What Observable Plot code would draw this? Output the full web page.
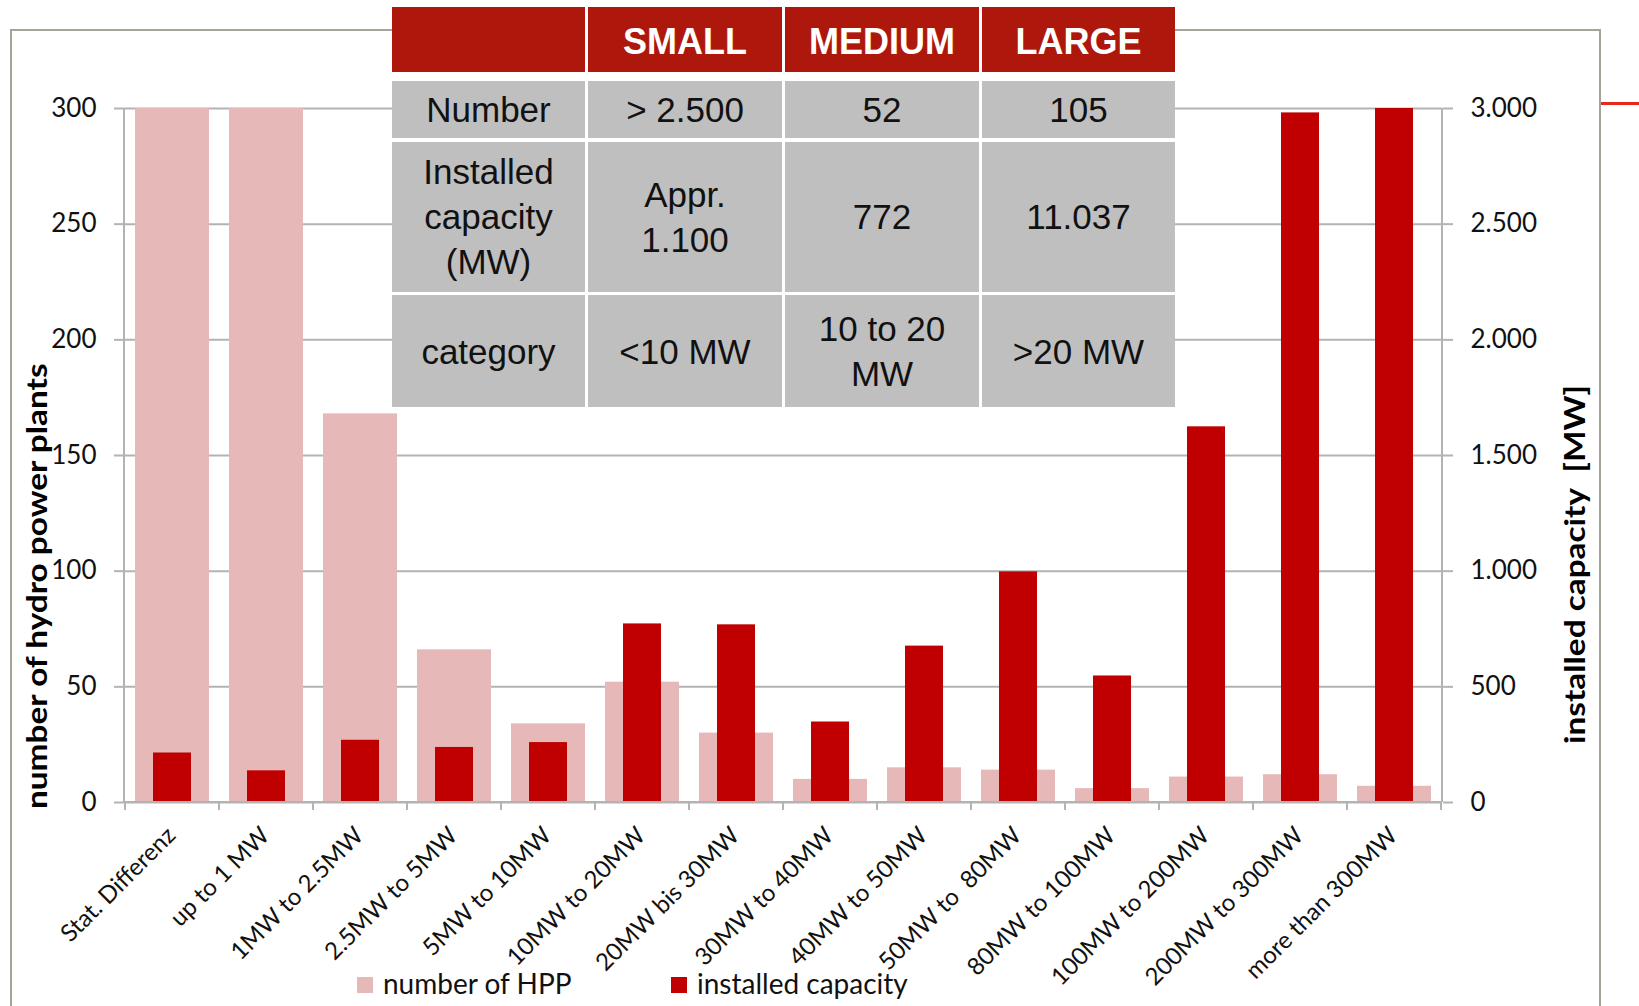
<!DOCTYPE html>
<html>
<head>
<meta charset="utf-8">
<script src="https://cdn.jsdelivr.net/npm/d3@7"></script>
<script src="https://cdn.jsdelivr.net/npm/@observablehq/plot@0.6"></script>
<style>
  html, body { margin: 0; padding: 0; background: #fff; width: 1639px; height: 1006px; overflow: hidden; }
  #wrap { position: relative; width: 1639px; height: 1006px; overflow: hidden; }
  #frame { position: absolute; left: 10px; top: 29px; width: 1591px; height: 1200px; box-sizing: border-box; border: 2px solid #a8a399; }
  #redline { position: absolute; left: 1601px; top: 102px; width: 38px; height: 3px; background: #e8281c; }
  #chart { position: absolute; left: 0; top: 0; }
  #chart svg text { white-space: pre; }
  .ytitle { position: absolute; font-family: Lato, sans-serif; font-weight: 700; font-size: 29px; line-height: 29px; white-space: pre; color: #000; transform-origin: 0 0; transform: rotate(-90deg) scaleX(1.15); }
  #tbl { position: absolute; left: 392px; top: 7px; width: 783px; background: #fff; font-family: "Liberation Sans", Arial, sans-serif; }
  .row { display: grid; grid-template-columns: 193px 194px 194px 193px; column-gap: 3px; }
  .hdr { height: 65px; }
  .hdr div { background: #ad170c; color: #fff; font-weight: 700; font-size: 36px; display: flex; align-items: center; justify-content: center; padding-top: 4px; box-sizing: border-box; }
  .body { display: grid; grid-template-columns: 193px 194px 194px 193px; grid-template-rows: 57px 150px 112px; column-gap: 3px; row-gap: 3.5px; margin-top: 9px; }
  .body div { background: #bfbfbf; color: #111; font-size: 35px; line-height: 45px; display: flex; align-items: center; justify-content: center; text-align: center; white-space: pre; }
  .leg { position: absolute; font-family: Lato, sans-serif; font-size: 28px; line-height: 28px; color: #111; white-space: pre; }
  .sw { position: absolute; width: 16px; height: 16px; }
</style>
</head>
<body>
<div id="wrap">
  <div id="frame"></div>
  <div id="redline"></div>
  <div id="chart"></div>
</div>
<script>
// ---------- data ----------
const categories = ["Stat. Differenz", "up to 1 MW", "1MW to 2.5MW", "2.5MW to 5MW", "5MW to 10MW", "10MW to 20MW", "20MW bis 30MW", "30MW to 40MW", "40MW to 50MW", "50MW to  80MW", "80MW to 100MW", "100MW to 200MW", "200MW to 300MW", "more than 300MW"];
const numberHPP = [300, 300, 168, 66, 34, 52, 30, 10, 15, 14, 6, 11, 12, 7];
const installedMW = [214, 137, 269, 238, 259, 772, 768, 348, 676, 997, 547, 1624, 2981, 3000];
const countTicks = [0, 50, 100, 150, 200, 250, 300];
const capacityTicks = [0, 500, 1000, 1500, 2000, 2500, 3000];
const leftTitle = "number of hydro power plants";
const rightTitle = "installed capacity  [MW]";
const legendLabels = ["number of HPP", "installed capacity"];
const tableHeader = ["", "SMALL", "MEDIUM", "LARGE"];
const tableRows = [
  ["Number", "> 2.500", "52", "105"],
  ["Installed\ncapacity\n(MW)", "Appr.\n1.100", "772", "11.037"],
  ["category", "<10 MW", "10 to 20\nMW", ">20 MW"]
];

// ---------- styles ----------
const pink = "#e6b9b8";
const red = "#c00000";
const gray = "#b3b3b3";
const capRatio = capacityTicks[capacityTicks.length - 1] / countTicks[countTicks.length - 1];

const rows = categories.map((c, i) => ({cat: c, count: numberHPP[i], cap: installedMW[i]}));
const de = d3.formatLocale({decimal: ",", thousands: ".", grouping: [3], currency: ["", "€"]}).format(",d");

function axisFrame(index, scales, values, dimensions) {
  const {width, marginLeft, marginRight} = dimensions;
  const x = scales.x, y = scales.y;
  const x0 = marginLeft, x1 = width - marginRight;
  const yb = y(countTicks[0]), yt = y(countTicks[countTicks.length - 1]);
  const bw = typeof x.bandwidth === "function" ? x.bandwidth() : (x1 - x0) / categories.length;
  const g = d3.create("svg:g").attr("stroke", gray).attr("stroke-width", 2).attr("fill", "none");
  g.append("line").attr("x1", x0).attr("x2", x0).attr("y1", yt).attr("y2", yb);
  g.append("line").attr("x1", x1).attr("x2", x1).attr("y1", yt).attr("y2", yb);
  g.append("line").attr("x1", x0).attr("x2", x1).attr("y1", yb).attr("y2", yb);
  const edges = categories.map(c => x(c)).concat([x(categories[categories.length - 1]) + bw]);
  for (const e of edges) g.append("line").attr("x1", e).attr("x2", e).attr("y1", yb).attr("y2", yb + 8);
  return g.node();
}

const plot = Plot.plot({
  width: 1639,
  height: 1006,
  marginLeft: 124,
  marginRight: 197,
  marginTop: 108,
  marginBottom: 204,
  style: {fontFamily: "Lato, sans-serif", fontSize: "26px", color: "#111", background: "transparent", overflow: "visible"},
  x: {domain: categories, padding: 0},
  y: {domain: [countTicks[0], countTicks[countTicks.length - 1]]},
  marks: [
    Plot.gridY(countTicks, {stroke: gray, strokeOpacity: 1, strokeWidth: 2}),
    Plot.barY(rows, {x: "cat", y: "count", fill: pink, insetLeft: 10, insetRight: 10}),
    Plot.barY(rows, {x: "cat", y: d => d.cap / capRatio, fill: red, insetLeft: 28, insetRight: 28}),
    axisFrame,
    Plot.axisY({anchor: "left", ticks: countTicks, tickSize: 10, tickPadding: 18, stroke: gray, strokeWidth: 2, fill: "#111", fontSize: 26, label: null, tickFormat: d => de(d)}),
    Plot.axisY({anchor: "right", ticks: capacityTicks.map(v => v / capRatio), tickSize: 10, tickPadding: 18, stroke: gray, strokeWidth: 2, fill: "#111", fontSize: 26, label: null, tickFormat: d => de(d * capRatio)}),
    Plot.axisX({anchor: "bottom", tickRotate: -45, tickSize: 0, tickPadding: 29, dx: -1, textAnchor: "end", lineAnchor: "middle", fontSize: 24, fill: "#111", label: null})
  ]
});
document.getElementById("chart").appendChild(plot);

const wrap = document.getElementById("wrap");
function addDiv(cls, text, style) {
  const d = document.createElement("div");
  d.className = cls;
  d.textContent = text;
  Object.assign(d.style, style);
  wrap.appendChild(d);
  return d;
}
addDiv("ytitle", leftTitle, {left: "21px", top: "809px"});
addDiv("ytitle", rightTitle, {left: "1559px", top: "744px"});

// legend
addDiv("sw", "", {left: "357px", top: "977px", background: pink});
addDiv("leg", legendLabels[0], {left: "383px", top: "969px"});
addDiv("sw", "", {left: "671px", top: "977px", background: red});
addDiv("leg", legendLabels[1], {left: "697px", top: "969px"});

// table
const tbl = document.createElement("div");
tbl.id = "tbl";
const hdr = document.createElement("div");
hdr.className = "row hdr";
for (const h of tableHeader) { const c = document.createElement("div"); c.textContent = h; hdr.appendChild(c); }
tbl.appendChild(hdr);
const body = document.createElement("div");
body.className = "body";
for (const r of tableRows) for (const v of r) { const c = document.createElement("div"); c.textContent = v; body.appendChild(c); }
tbl.appendChild(body);
wrap.appendChild(tbl);
</script>
</body>
</html>
